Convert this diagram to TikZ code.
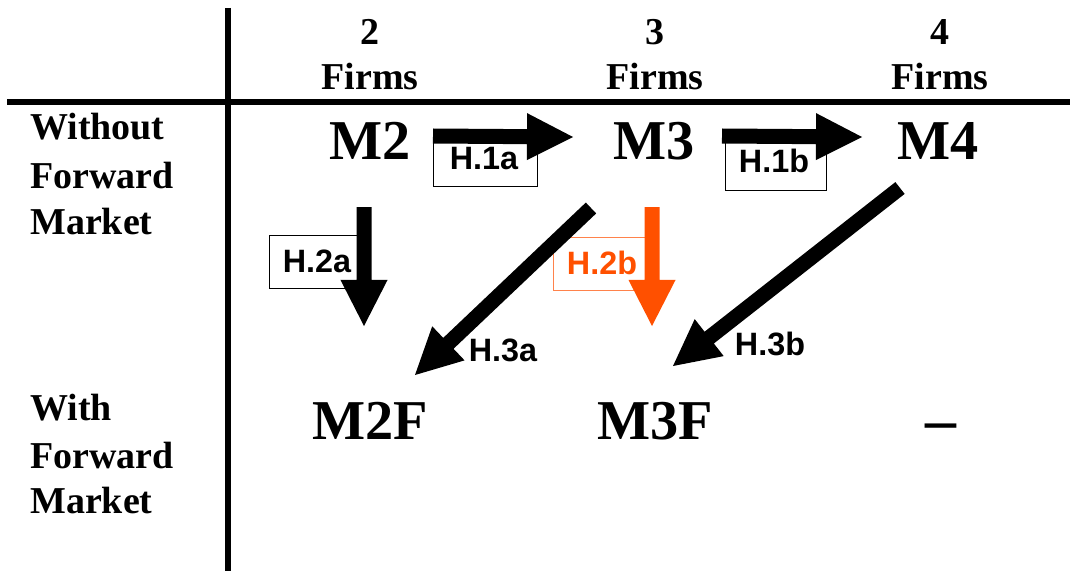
\documentclass[tikz,border=0pt]{standalone}
\usepackage{fontspec}
\setmainfont{Liberation Serif}
\newfontfamily\labelfont{Liberation Sans}
\usetikzlibrary{calc}
\definecolor{hotorange}{RGB}{255,80,0}
\definecolor{paleorange}{RGB}{255,130,75}

\tikzset{
  x=0.025cm, y=-0.025cm,
  colhead/.style={font=\bfseries\fontsize{27}{27}\selectfont, inner sep=0, anchor=base},
  rowlbl/.style={font=\bfseries\fontsize{27}{27}\selectfont, inner sep=0, anchor=base west},
  model/.style={font=\bfseries\fontsize{40}{40}\selectfont, inner sep=0, anchor=base},
  hyp/.style={font=\labelfont\bfseries\fontsize{23}{23}\selectfont, inner sep=0},
  hypbox/.style={draw, line width=0.7pt},
  gridrule/.style={line width=0.15cm},
}

% Block arrow: shaft 15 units wide, head 47 units wide and 46 units long
\newcommand\blockarrow[3][black]{%
  \coordinate (ba-h) at ($(#3)!1.15cm!(#2)$);
  \fill[#1] ($(#2)!0.1875cm!90:(#3)$) -- ($(ba-h)!0.1875cm!90:(#3)$)
    -- ($(ba-h)!0.5875cm!90:(#3)$) -- (#3)
    -- ($(ba-h)!0.5875cm!-90:(#3)$) -- ($(ba-h)!0.1875cm!-90:(#3)$)
    -- ($(#2)!0.1875cm!-90:(#3)$) -- cycle;
}

\begin{document}
\begin{tikzpicture}
\useasboundingbox (0,0) rectangle (1070,571);

% table rules
\draw[gridrule] (7,102) -- (1070,102);
\draw[gridrule] (228,8) -- (228,571);

% column headings
\node[colhead] (n2) at (370,45) {2};
\node[colhead] (f2) at (370,90) {Firms};
\node[colhead] (n3) at (655,45) {3};
\node[colhead] (f3) at (655,90) {Firms};
\node[colhead] (n4) at (940,45) {4};
\node[colhead] (f4) at (940,90) {Firms};

% row headings
\node[rowlbl] (r1a) at (30,140) {Without};
\node[rowlbl] (r1b) at (30,189) {Forward};
\node[rowlbl] (r1c) at (30,234) {Market};
\node[rowlbl] (r2a) at (30,420) {With};
\node[rowlbl] (r2b) at (30,468) {Forward};
\node[rowlbl] (r2c) at (30,513) {Market};

% models
\node[model] (M2) at (370,159) {M2};
\node[model] (M3) at (654,159) {M3};
\node[model] (M4) at (938,159) {M4};
\node[model] (M2F) at (370,439) {M2F};
\node[model] (M3F) at (655,439) {M3F};
\node[model, font=\bfseries\fontsize{44}{44}\selectfont] (M4F) at (941,440) {–};

% hypothesis label boxes
\draw[hypbox] (433,140) rectangle (537,186);
\node[hyp] (h1a) at (484,159) {H.1a};
\draw[hypbox] (725,140) rectangle (826,190);
\node[hyp] (h1b) at (774,161) {H.1b};
\draw[hypbox] (269,235) rectangle (364,288);
\node[hyp] (h2a) at (317,261) {H.2a};
\draw[hypbox, paleorange] (553,237) rectangle (652,290);
\node[hyp, text=hotorange] (h2b) at (602,263) {H.2b};
\node[hyp] (h3a) at (503,350) {H.3a};
\node[hyp] (h3b) at (770,344) {H.3b};

% arrow end points
\coordinate (a1s) at (433,136);  \coordinate (a1t) at (573,137);
\coordinate (b1s) at (722,136);  \coordinate (b1t) at (862,137);
\coordinate (a2s) at (364,207);  \coordinate (a2t) at (364,326);
\coordinate (b2s) at (652,207);  \coordinate (b2t) at (652,326);
\coordinate (a3s) at (591,208);  \coordinate (a3t) at (415,375);
\coordinate (b3s) at (900,188);  \coordinate (b3t) at (673,366);

% arrows
\blockarrow{a1s}{a1t}
\blockarrow{b1s}{b1t}
\blockarrow{a2s}{a2t}
\blockarrow[hotorange]{b2s}{b2t}
\blockarrow{a3s}{a3t}
\blockarrow{b3s}{b3t}
\end{tikzpicture}
\end{document}
